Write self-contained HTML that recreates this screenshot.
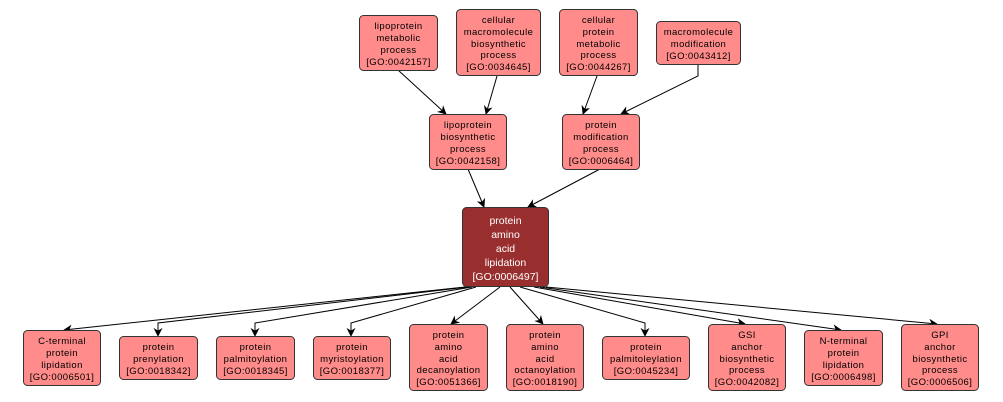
<!DOCTYPE html>
<html><head><meta charset="utf-8"><style>
html,body{margin:0;padding:0;background:#fff;}
svg{display:block;}
text{font-family:"Liberation Sans",sans-serif;font-size:9.5px;text-anchor:middle;letter-spacing:0.4px;fill:#000;}
.n rect{fill:#ff8c8a;stroke:#333;stroke-width:1;}
.c rect{fill:#992e2e;stroke:#333;stroke-width:1;}
.c text{fill:#fff;font-size:10.5px;letter-spacing:0;}
line,polyline{stroke:#000;stroke-width:1;fill:none;}
</style></head><body>
<svg width="1003" height="402" viewBox="0 0 1003 402" xmlns="http://www.w3.org/2000/svg">
<defs><marker id="a" viewBox="0 0 10 10" refX="9" refY="5" markerWidth="9" markerHeight="9" orient="auto-start-reverse" markerUnits="userSpaceOnUse"><path d="M0,0 L10,5 L0,10 L3,5 z" fill="#000"/></marker></defs>

<!-- edges top -->
<line x1="398" y1="70" x2="446" y2="114" marker-end="url(#a)"/>
<line x1="497" y1="76" x2="486" y2="114" marker-end="url(#a)"/>
<line x1="597" y1="76" x2="583" y2="114" marker-end="url(#a)"/>
<polyline points="698,64 698,76 621,114" marker-end="url(#a)"/>
<line x1="468" y1="169" x2="484" y2="207" marker-end="url(#a)"/>
<line x1="600" y1="169" x2="528" y2="207" marker-end="url(#a)"/>

<!-- edges bottom -->
<line x1="465" y1="287" x2="64" y2="330" marker-end="url(#a)"/>
<polyline points="468,287 158,323 158,336" marker-end="url(#a)"/>
<polyline points="472,287 255,323 255,336" marker-end="url(#a)"/>
<polyline points="476,287 351,323 351,336" marker-end="url(#a)"/>
<line x1="500" y1="287" x2="451" y2="324" marker-end="url(#a)"/>
<line x1="510" y1="287" x2="543" y2="324" marker-end="url(#a)"/>
<polyline points="520,287 645,323 645,336" marker-end="url(#a)"/>
<line x1="534" y1="287" x2="745" y2="324" marker-end="url(#a)"/>
<line x1="540" y1="287" x2="841" y2="330" marker-end="url(#a)"/>
<line x1="546" y1="287" x2="937" y2="324" marker-end="url(#a)"/>

<!-- top nodes -->
<g class="n"><rect x="359.5" y="15.5" width="78" height="55" rx="4"/>
<text x="398.5" y="29">lipoprotein</text><text x="398.5" y="41">metabolic</text><text x="398.5" y="53">process</text><text x="398.5" y="65">[GO:0042157]</text></g>
<g class="n"><rect x="456.5" y="9.5" width="84" height="66" rx="4"/>
<text x="498.5" y="23">cellular</text><text x="498.5" y="35">macromolecule</text><text x="498.5" y="47">biosynthetic</text><text x="498.5" y="58">process</text><text x="498.5" y="70">[GO:0034645]</text></g>
<g class="n"><rect x="559.5" y="9.5" width="78" height="66" rx="4"/>
<text x="598.5" y="23">cellular</text><text x="598.5" y="35">protein</text><text x="598.5" y="47">metabolic</text><text x="598.5" y="58">process</text><text x="598.5" y="70">[GO:0044267]</text></g>
<g class="n"><rect x="656.5" y="21.5" width="84" height="43" rx="4"/>
<text x="698.5" y="35">macromolecule</text><text x="698.5" y="47">modification</text><text x="698.5" y="59">[GO:0043412]</text></g>

<!-- second row -->
<g class="n"><rect x="429.5" y="114.5" width="77" height="55" rx="4"/>
<text x="468" y="128">lipoprotein</text><text x="468" y="140">biosynthetic</text><text x="468" y="152">process</text><text x="468" y="164">[GO:0042158]</text></g>
<g class="n"><rect x="562.5" y="114.5" width="77" height="55" rx="4"/>
<text x="601" y="128">protein</text><text x="601" y="140">modification</text><text x="601" y="152">process</text><text x="601" y="164">[GO:0006464]</text></g>

<!-- center -->
<g class="c"><rect x="462.5" y="207.5" width="86" height="79" rx="4"/>
<text x="505.5" y="224">protein</text><text x="505.5" y="238">amino</text><text x="505.5" y="252">acid</text><text x="505.5" y="266">lipidation</text><text x="505.5" y="280">[GO:0006497]</text></g>

<!-- bottom -->
<g class="n"><rect x="23.5" y="330.5" width="77" height="55" rx="4"/>
<text x="62" y="344">C-terminal</text><text x="62" y="356">protein</text><text x="62" y="368">lipidation</text><text x="62" y="380">[GO:0006501]</text></g>
<g class="n"><rect x="119.5" y="336.5" width="78" height="43" rx="4"/>
<text x="158.5" y="350">protein</text><text x="158.5" y="362">prenylation</text><text x="158.5" y="374">[GO:0018342]</text></g>
<g class="n"><rect x="216.5" y="336.5" width="78" height="43" rx="4"/>
<text x="255.5" y="350">protein</text><text x="255.5" y="362">palmitoylation</text><text x="255.5" y="374">[GO:0018345]</text></g>
<g class="n"><rect x="313.5" y="336.5" width="77" height="43" rx="4"/>
<text x="352" y="350">protein</text><text x="352" y="362">myristoylation</text><text x="352" y="374">[GO:0018377]</text></g>
<g class="n"><rect x="409.5" y="324.5" width="78" height="66" rx="4"/>
<text x="448.5" y="338">protein</text><text x="448.5" y="350">amino</text><text x="448.5" y="362">acid</text><text x="448.5" y="373">decanoylation</text><text x="448.5" y="385">[GO:0051366]</text></g>
<g class="n"><rect x="506.5" y="324.5" width="77" height="66" rx="4"/>
<text x="545" y="338">protein</text><text x="545" y="350">amino</text><text x="545" y="362">acid</text><text x="545" y="373">octanoylation</text><text x="545" y="385">[GO:0018190]</text></g>
<g class="n"><rect x="602.5" y="336.5" width="87" height="43" rx="4"/>
<text x="646" y="350">protein</text><text x="646" y="362">palmitoleylation</text><text x="646" y="374">[GO:0045234]</text></g>
<g class="n"><rect x="708.5" y="324.5" width="77" height="66" rx="4"/>
<text x="747" y="338">GSI</text><text x="747" y="350">anchor</text><text x="747" y="362">biosynthetic</text><text x="747" y="373">process</text><text x="747" y="385">[GO:0042082]</text></g>
<g class="n"><rect x="804.5" y="330.5" width="78" height="55" rx="4"/>
<text x="843.5" y="344">N-terminal</text><text x="843.5" y="356">protein</text><text x="843.5" y="368">lipidation</text><text x="843.5" y="380">[GO:0006498]</text></g>
<g class="n"><rect x="901.5" y="324.5" width="77" height="66" rx="4"/>
<text x="940" y="338">GPI</text><text x="940" y="350">anchor</text><text x="940" y="362">biosynthetic</text><text x="940" y="373">process</text><text x="940" y="385">[GO:0006506]</text></g>
</svg>
</body></html>
